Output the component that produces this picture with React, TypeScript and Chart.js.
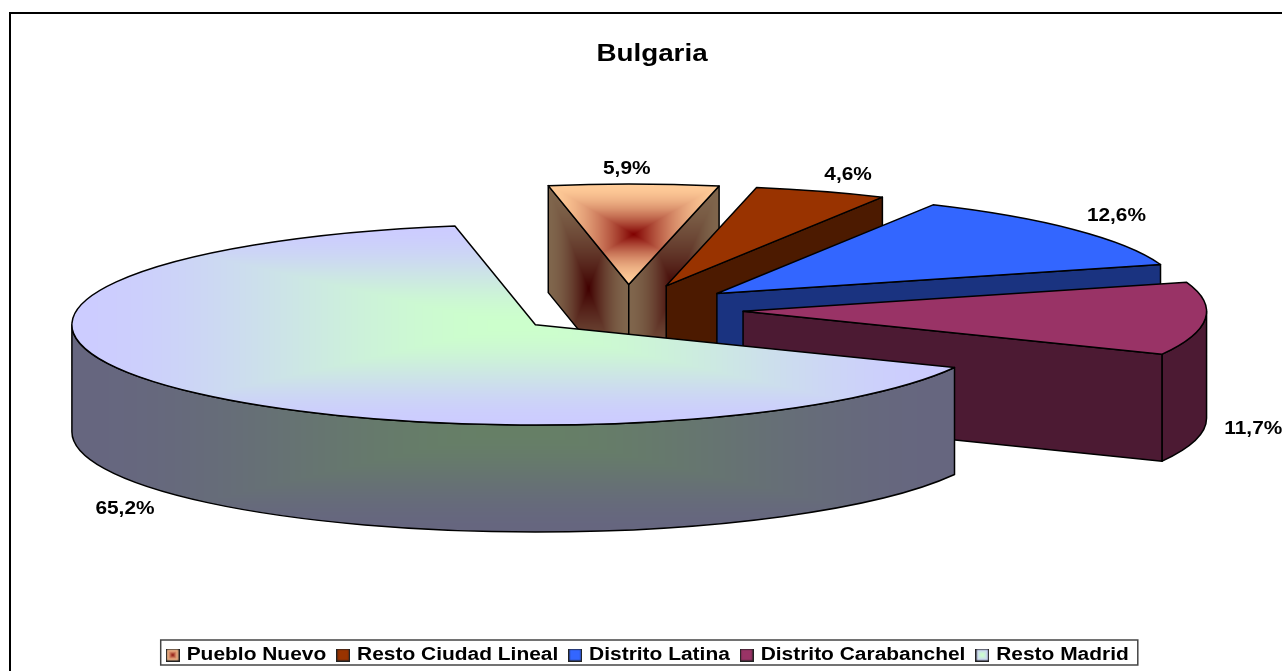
import React, { useEffect, useRef } from "react";
import { Chart, registerables } from "chart.js";

Chart.register(...registerables);

const title = "Bulgaria";
const categories = ["Pueblo Nuevo", "Resto Ciudad Lineal", "Distrito Latina", "Distrito Carabanchel", "Resto Madrid"];
const shares = [5.9, 4.6, 12.6, 11.7, 65.2];

// [centre colour, edge colour] of each top face
const faceColours: [number[], number[]][] = [
  [[128, 0, 0], [255, 204, 153]],
  [[153, 51, 0], [153, 51, 0]],
  [[51, 102, 255], [51, 102, 255]],
  [[153, 51, 102], [153, 51, 102]],
  [[204, 255, 204], [204, 204, 255]],
];
const sharpCore = [true, false, false, false, false];
const labelNudges = [[-7, -15], [27, -16], [42, -14], [48, 3], [-42, 16]];

const pie = { cx: 627.5, cy: 309.5, rx: 463.5, ry: 100.3, depth: 107, explode: 0.25 };
const textStretch = 1.158;
const legendStretch = 1.163;
const FONT = '"Liberation Sans", Arial, sans-serif';

function gradientTile(w: number, h: number, c0: number[], c1: number[], sharp = false) {
  const W = Math.max(1, Math.ceil(w));
  const H = Math.max(1, Math.ceil(h));
  const c = document.createElement("canvas");
  c.width = W;
  c.height = H;
  const g = c.getContext("2d")!;
  const img = g.createImageData(W, H);
  for (let y = 0; y < H; y++) {
    for (let x = 0; x < W; x++) {
      const t = Math.max(Math.abs((2 * (x + 0.5)) / W - 1), Math.abs((2 * (y + 0.5)) / H - 1));
      const u = 1 - t;
      const s = sharp ? Math.pow(u, 1.8) : u * u * (3 - 2 * u);
      const o = (y * W + x) * 4;
      for (let k = 0; k < 3; k++) img.data[o + k] = c1[k] + (c0[k] - c1[k]) * s;
      img.data[o + 3] = 255;
    }
  }
  g.putImageData(img, 0, 0);
  return c;
}

function legendIcon(c0: number[], c1: number[], sharp: boolean) {
  const c = gradientTile(12, 13, c0, c1, sharp);
  const g = c.getContext("2d")!;
  g.strokeStyle = "#222";
  g.lineWidth = 1.2;
  g.strokeRect(0.6, 0.6, 10.8, 11.8);
  return c;
}

function half(c: number[]) {
  return c.map((v) => v / 2);
}

type Box = { x0: number; y0: number; x1: number; y1: number };

function paintFace(ctx: CanvasRenderingContext2D, path: () => void, box: Box, c0: number[], c1: number[], sharp: boolean) {
  const tile = gradientTile(box.x1 - box.x0, box.y1 - box.y0, c0, c1, sharp);
  ctx.save();
  ctx.beginPath();
  path();
  ctx.closePath();
  ctx.save();
  ctx.clip();
  ctx.drawImage(tile, box.x0, box.y0, box.x1 - box.x0, box.y1 - box.y0);
  ctx.restore();
  ctx.strokeStyle = "#000";
  ctx.lineWidth = 1.5;
  ctx.lineJoin = "round";
  ctx.stroke();
  ctx.restore();
}

const pie3d = {
  id: "pie3d",
  beforeLayout(chart: any) {
    if (chart.$patched) return;
    chart.$patched = true;
    const ctx = chart.ctx;
    const legend = chart.legend;
    const drawLegend = legend.draw;
    legend.draw = function () {
      const hits = this.legendHitBoxes;
      if (!hits || !hits.length) return;
      const mid = (hits[0].left + hits[hits.length - 1].left + hits[hits.length - 1].width) / 2;
      const map = (x: number) => 649 + (x - mid) * legendStretch;
      const dy = 655 - (hits[0].top + hits[0].height / 2);
      const left = map(hits[0].left) - 8.5;
      const right = map(hits[hits.length - 1].left + hits[hits.length - 1].width) + 9;
      ctx.save();
      ctx.fillStyle = "#fff";
      ctx.strokeStyle = "#444";
      ctx.lineWidth = 1.5;
      ctx.fillRect(left, 640, right - left, 25);
      ctx.strokeRect(left, 640, right - left, 25);
      ctx.translate(649, dy);
      ctx.scale(legendStretch, 1);
      ctx.translate(-mid, 0);
      drawLegend.call(this);
      ctx.restore();
    };
    const block = chart.titleBlock;
    const drawTitle = block.draw;
    block.draw = function () {
      const mid = (this.left + this.right) / 2;
      ctx.save();
      ctx.translate(652, 0);
      ctx.scale(textStretch, 1);
      ctx.translate(-mid, 0);
      drawTitle.call(this);
      ctx.restore();
    };
  },
  beforeDraw(chart: any) {
    const ctx = chart.ctx;
    ctx.save();
    ctx.fillStyle = "#000";
    ctx.fillRect(9, 12, chart.width, 2);
    ctx.fillRect(9, 12, 2, chart.height);
    ctx.restore();
  },
  beforeDatasetsDraw(chart: any) {
    const ctx: CanvasRenderingContext2D = chart.ctx;
    const arcs = chart.getDatasetMeta(0).data;
    const { rx, ry, depth, explode } = pie;
    const centres = arcs.map((arc: any) => {
      const m = (arc.startAngle + arc.endAngle) / 2;
      return { x: pie.cx + Math.cos(m) * rx * explode, y: pie.cy + Math.sin(m) * ry * explode, m };
    });
    arcs.forEach((arc: any, i: number) => {
      const { x, y } = centres[i];
      const a = arc.startAngle;
      const b = arc.endAngle;
      const [c0, c1] = faceColours[i];
      const sharp = sharpCore[i];
      const px = (t: number) => x + Math.cos(t) * rx;
      const py = (t: number) => y + Math.sin(t) * ry;

      // straight cut faces that look towards the viewer
      const cut = (t: number) => {
        const ex = px(t);
        const ey = py(t);
        const box = {
          x0: Math.min(x, ex),
          x1: Math.max(x, ex),
          y0: Math.min(y, ey),
          y1: Math.max(y, ey) + depth,
        };
        paintFace(
          ctx,
          () => {
            ctx.moveTo(x, y);
            ctx.lineTo(ex, ey);
            ctx.lineTo(ex, ey + depth);
            ctx.lineTo(x, y + depth);
          },
          box,
          half(c0),
          half(c1),
          sharp,
        );
      };
      if (-Math.cos(a) > 0) cut(a);
      if (Math.cos(b) > 0) cut(b);

      // outer rim, front half only
      for (const shift of [-2 * Math.PI, 0, 2 * Math.PI]) {
        const s = Math.max(a, shift);
        const e = Math.min(b, shift + Math.PI);
        if (e <= s) continue;
        const xs = [px(s), px(e)];
        const ys = [py(s), py(e)];
        if (s < shift + Math.PI / 2 && e > shift + Math.PI / 2) ys.push(y + ry);
        paintFace(
          ctx,
          () => {
            ctx.ellipse(x, y, rx, ry, 0, s, e);
            ctx.lineTo(px(e), py(e) + depth);
            ctx.ellipse(x, y + depth, rx, ry, 0, e, s, true);
          },
          {
            x0: Math.min(...xs),
            x1: Math.max(...xs),
            y0: Math.min(...ys),
            y1: Math.max(...ys) + depth,
          },
          half(c0),
          half(c1),
          sharp,
        );
      }

      // top face
      const xs = [x, px(a), px(b)];
      const ys = [y, py(a), py(b)];
      for (let k = -4; k <= 8; k++) {
        const t = (k * Math.PI) / 2;
        if (t > a && t < b) {
          xs.push(px(t));
          ys.push(py(t));
        }
      }
      paintFace(
        ctx,
        () => {
          ctx.moveTo(x, y);
          ctx.ellipse(x, y, rx, ry, 0, a, b);
        },
        { x0: Math.min(...xs), x1: Math.max(...xs), y0: Math.min(...ys), y1: Math.max(...ys) },
        c0,
        c1,
        sharp,
      );
    });

    // value labels
    ctx.save();
    ctx.fillStyle = "#000";
    ctx.font = `bold 18px ${FONT}`;
    ctx.textAlign = "center";
    ctx.textBaseline = "middle";
    arcs.forEach((_: any, i: number) => {
      const { x, y, m } = centres[i];
      const front = Math.sin(m) > 0 ? depth : 0;
      const lx = x + Math.cos(m) * rx + labelNudges[i][0];
      const ly = y + Math.sin(m) * ry + front + labelNudges[i][1];
      const text = shares[i].toFixed(1).replace(".", ",") + "%";
      ctx.save();
      ctx.translate(lx, ly);
      ctx.scale(textStretch, 1);
      ctx.fillText(text, 0, 0);
      ctx.restore();
    });
    ctx.restore();
    return false;
  },
};

export default function App() {
  const ref = useRef<HTMLCanvasElement>(null);
  useEffect(() => {
    document.body.style.margin = "0";
    document.body.style.background = "#fff";
    const icons = faceColours.map(([c0, c1], i) => legendIcon(c0, c1, sharpCore[i]));
    const flat = (c: number[]) => `rgb(${c.join(",")})`;
    const chart = new Chart(ref.current!, {
      type: "pie",
      data: {
        labels: categories,
        datasets: [
          {
            data: shares,
            backgroundColor: faceColours.map(([c0, c1]) => flat(c1)),
            borderColor: "#000",
            borderWidth: 1,
          },
        ],
      },
      plugins: [pie3d],
      options: {
        responsive: false,
        animation: false,
        rotation: -10,
        events: [],
        plugins: {
          tooltip: { enabled: false },
          title: {
            display: true,
            text: title,
            color: "#000",
            padding: { top: 40, bottom: 0 },
            font: { family: FONT, size: 24, weight: "bold" },
          },
          legend: {
            position: "bottom",
            labels: {
              color: "#000",
              usePointStyle: true,
              pointStyleWidth: 6,
              boxHeight: 12,
              padding: 11.5,
              font: { family: FONT, size: 18, weight: "bold" },
              generateLabels: () =>
                categories.map((text, i) => ({
                  text,
                  index: i,
                  fontColor: "#000",
                  pointStyle: icons[i],
                  fillStyle: flat(faceColours[i][1]),
                  strokeStyle: "#000",
                  lineWidth: 0,
                  hidden: false,
                })),
            },
          },
        },
      } as any,
    } as any);
    return () => chart.destroy();
  }, []);
  return <canvas ref={ref} width={1282} height={671} style={{ display: "block" }} />;
}
